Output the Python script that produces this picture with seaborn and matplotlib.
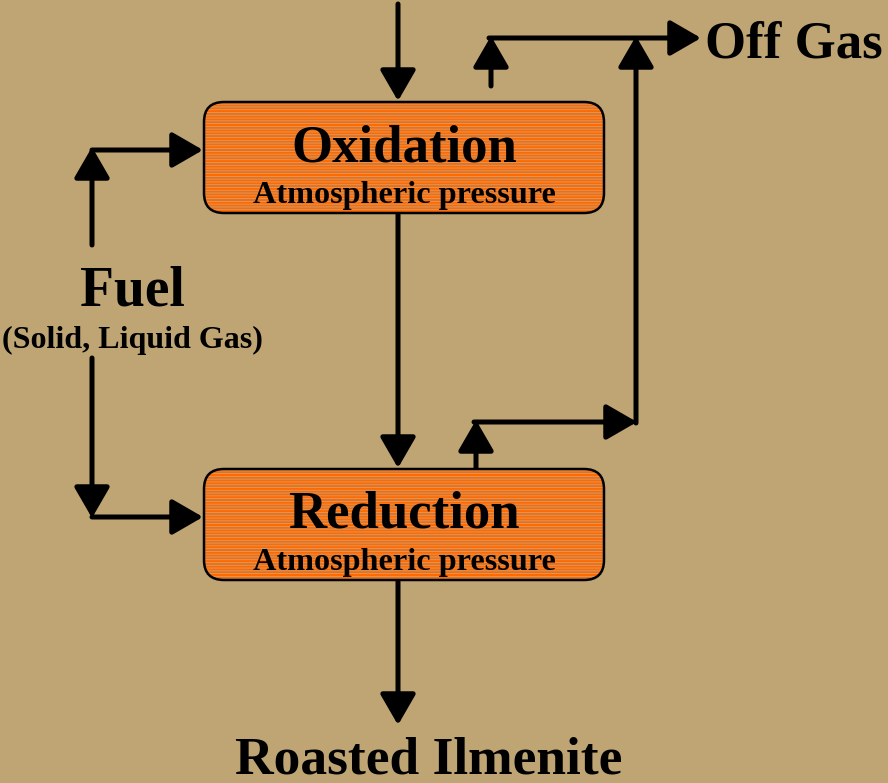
import matplotlib.pyplot as plt
import seaborn as sns
from matplotlib.patches import FancyBboxPatch

# -- diagram content (pixel space, y grows downward)
box_names = ["Oxidation", "Reduction"]
box_subtitle = "Atmospheric pressure"
box_top = [102, 469]
box_left, box_width, box_height = 204, 400, 111

fuel_label = "Fuel"
fuel_sub = "(Solid, Liquid Gas)"
offgas_label = "Off Gas"
product_label = "Roasted Ilmenite"

# arrows: (start, tip)
arrows = [
    ((398, 4), (398, 101)),      # feed into oxidation
    ((398, 213), (398, 468)),    # oxidation -> reduction
    ((398, 580), (398, 725)),    # reduction -> product
    ((92, 245), (92, 147)),      # fuel up
    ((92, 150), (203, 150)),     # fuel -> oxidation
    ((92, 358), (92, 518)),      # fuel down
    ((92, 517), (203, 517)),     # fuel -> reduction
    ((491, 86), (491, 36)),      # oxidation off gas
    ((489, 38), (701, 38)),      # off gas out
    ((636, 423), (636, 36)),     # riser
    ((476, 469), (476, 420)),    # reduction off gas
    ((474, 422), (637, 422)),    # to riser
]

bg = "#BFA574"
orange = "#FF6A00"
stripe = "#BBA890"

sns.set_theme(style="white")
plt.rcParams["font.family"] = ["Liberation Serif", "DejaVu Serif"]
plt.rcParams["text.color"] = "black"
plt.rcParams["hatch.linewidth"] = 0.55

fig = plt.figure(figsize=(8.88, 7.83), dpi=100, facecolor=bg)
ax = fig.add_axes([0, 0, 1, 1])
ax.set_facecolor(bg)
ax.set_xlim(0, 888)
ax.set_ylim(783, 0)
ax.axis("off")

for name, top in zip(box_names, box_top):
    style = "round,pad=0,rounding_size=20"
    ax.add_patch(FancyBboxPatch((box_left, top), box_width, box_height, boxstyle=style,
                                facecolor=orange, edgecolor=stripe, hatch="------",
                                linewidth=0, zorder=2))
    ax.add_patch(FancyBboxPatch((box_left, top), box_width, box_height, boxstyle=style,
                                facecolor="none", edgecolor="black", linewidth=1.8, zorder=3))
    cx = box_left + box_width / 2
    ax.text(cx, top + 59, name, ha="center", va="baseline", fontsize=38,
            fontweight="bold", color="black", zorder=4)
    ax.text(cx, top + 101, box_subtitle, ha="center", va="baseline", fontsize=23.2,
            fontweight="bold", color="black", zorder=4)

for start, tip in arrows:
    ax.annotate("", xy=tip, xytext=start,
                arrowprops=dict(arrowstyle="-|>,head_length=0.9,head_width=0.52",
                                mutation_scale=21, color="black", lw=3.6,
                                shrinkA=0, shrinkB=0), zorder=1)

ax.text(132, 305, fuel_label, ha="center", va="baseline", fontsize=40,
        fontweight="bold", color="black")
ax.text(132, 348, fuel_sub, ha="center", va="baseline", fontsize=23,
        fontweight="bold", color="black")
ax.text(705, 57, offgas_label, ha="left", va="baseline", fontsize=38,
        fontweight="bold", color="black")
ax.text(429, 773, product_label, ha="center", va="baseline", fontsize=38.5,
        fontweight="bold", color="black")

fig.savefig("out.png", dpi=100, facecolor=bg)
